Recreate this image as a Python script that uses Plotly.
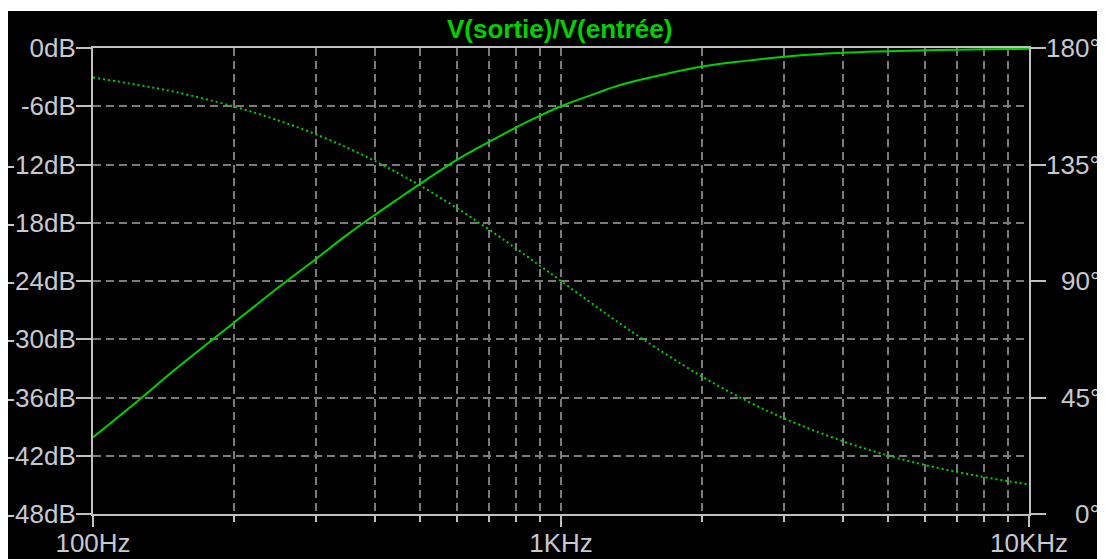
import plotly.graph_objects as go

freq = [100, 125, 150, 200, 250, 300, 350, 400, 450, 500, 600, 700, 800, 900, 1000,
        1200, 1300, 1500, 2000, 2500, 3000, 4000, 5000, 6000, 7000, 8000, 9000, 10000]
# Magnitude V(sortie)/V(entrée) in dB (solid trace, left axis)
mag_db = [-40.1, -36.3, -33.1, -28.3, -24.6, -21.7, -19.2, -17.2, -15.5, -14.0, -11.5,
          -9.7, -8.2, -7.0, -6.0, -4.6, -4.0, -3.2, -1.9, -1.3, -0.9, -0.5, -0.34,
          -0.24, -0.18, -0.13, -0.11, -0.09]
# Phase in degrees (dotted trace, right axis)
phase_deg = [168.6, 165.7, 163.0, 157.4, 151.9, 146.6, 141.4, 136.4, 131.5, 126.9, 118.1,
             110.0, 102.7, 96.0, 90.0, 79.6, 75.1, 67.4, 53.1, 43.6, 36.9, 28.1, 22.6,
             18.9, 16.3, 14.3, 12.7, 11.4]

title_text = "V(sortie)/V(entrée)"
x_major_vals = [100, 1000, 10000]
x_major_text = ["100Hz", "1KHz", "10KHz"]
x_minor_vals = [200, 300, 400, 500, 600, 700, 800, 900,
                2000, 3000, 4000, 5000, 6000, 7000, 8000, 9000]
y_left_vals = [0, -6, -12, -18, -24, -30, -36, -42, -48]
y_left_text = ["0dB", "-6dB", "-12dB", "-18dB", "-24dB", "-30dB", "-36dB", "-42dB", "-48dB"]
y_right_vals = [0, 45, 90, 135, 180]
y_right_text = ["0°", "45°", "90°", "135°", "180°"]

GREEN = "#00d000"
AXIS = "#c0c0c0"
GRID = "#7a7a7a"
LABEL = "#c8c8d0"
FONT = "Liberation Sans, Arial, sans-serif"

fig = go.Figure()
fig.add_trace(go.Scatter(x=freq, y=mag_db, mode="lines",
                         line=dict(color=GREEN, width=2, shape="spline"),
                         yaxis="y", showlegend=False))
fig.add_trace(go.Scatter(x=freq, y=phase_deg, mode="lines",
                         line=dict(color=GREEN, width=2, dash="2px,3px", shape="spline"),
                         yaxis="y2", showlegend=False))

# figure sits at page offset (8, 8) because of the page body margin
OFF = 8
W, H = 1105 - OFF, 559 - OFF
L, T = 93 - OFF, 48 - OFF
R = W - (1029 - OFF)
B = H - (514 - OFF)
pw, ph = W - L - R, H - T - B

def px_x(p):  # page pixel -> paper fraction
    return (p - OFF - L) / pw

def px_y(p):
    return (H - B - (p - OFF)) / ph

annotations = [dict(text=title_text, xref="paper", yref="paper",
                    x=px_x(559), y=px_y(29), xanchor="center", yanchor="middle",
                    showarrow=False,
                    font=dict(family=FONT, size=26, color=GREEN, weight="bold"))]
# right-aligned phase tick labels
for v, t in zip(y_right_vals, y_right_text):
    annotations.append(dict(text=t, xref="paper", yref="y2", x=px_x(1102), y=v,
                            xanchor="right", yanchor="middle", showarrow=False,
                            font=dict(family=FONT, size=26, color=LABEL)))

fig.update_layout(
    width=W, height=H,
    margin=dict(l=L, r=R, t=T, b=B, pad=0, autoexpand=False),
    paper_bgcolor="white",
    plot_bgcolor="black",
    font=dict(family=FONT, size=26, color=LABEL),
    xaxis=dict(type="log", range=[2, 4], automargin=False,
               tickvals=x_major_vals, ticktext=x_major_text,
               ticks="outside", ticklen=11, tickwidth=2, tickcolor=AXIS,
               ticklabelstandoff=-6,
               showline=True, linecolor=AXIS, linewidth=2, mirror=True,
               showgrid=True, gridcolor=GRID, gridwidth=1.5, griddash="8px,5px",
               minor=dict(tickvals=x_minor_vals, ticks="outside", ticklen=6,
                          tickwidth=2, tickcolor=AXIS, showgrid=True,
                          gridcolor=GRID, gridwidth=1.5, griddash="8px,5px"),
               zeroline=False, tickfont=dict(size=26, color=LABEL)),
    yaxis=dict(range=[-48, 0], automargin=False,
               tickvals=y_left_vals, ticktext=y_left_text,
               ticks="outside", ticklen=15, tickwidth=2, tickcolor=AXIS,
               ticklabelstandoff=-5,
               showline=True, linecolor=AXIS, linewidth=2,
               showgrid=True, gridcolor=GRID, gridwidth=1.5, griddash="8px,5px",
               zeroline=False, tickfont=dict(size=26, color=LABEL)),
    yaxis2=dict(range=[0, 180], overlaying="y", side="right", automargin=False,
                tickvals=y_right_vals, showticklabels=False,
                ticks="outside", ticklen=15, tickwidth=2, tickcolor=AXIS,
                showline=True, linecolor=AXIS, linewidth=2,
                showgrid=False, zeroline=False),
    shapes=[dict(type="rect", xref="paper", yref="paper", layer="below",
                 x0=px_x(0), x1=px_x(1120), y0=px_y(580), y1=px_y(11),
                 fillcolor="black", line=dict(width=0))],
    annotations=annotations,
)

fig.write_html("out.html")
